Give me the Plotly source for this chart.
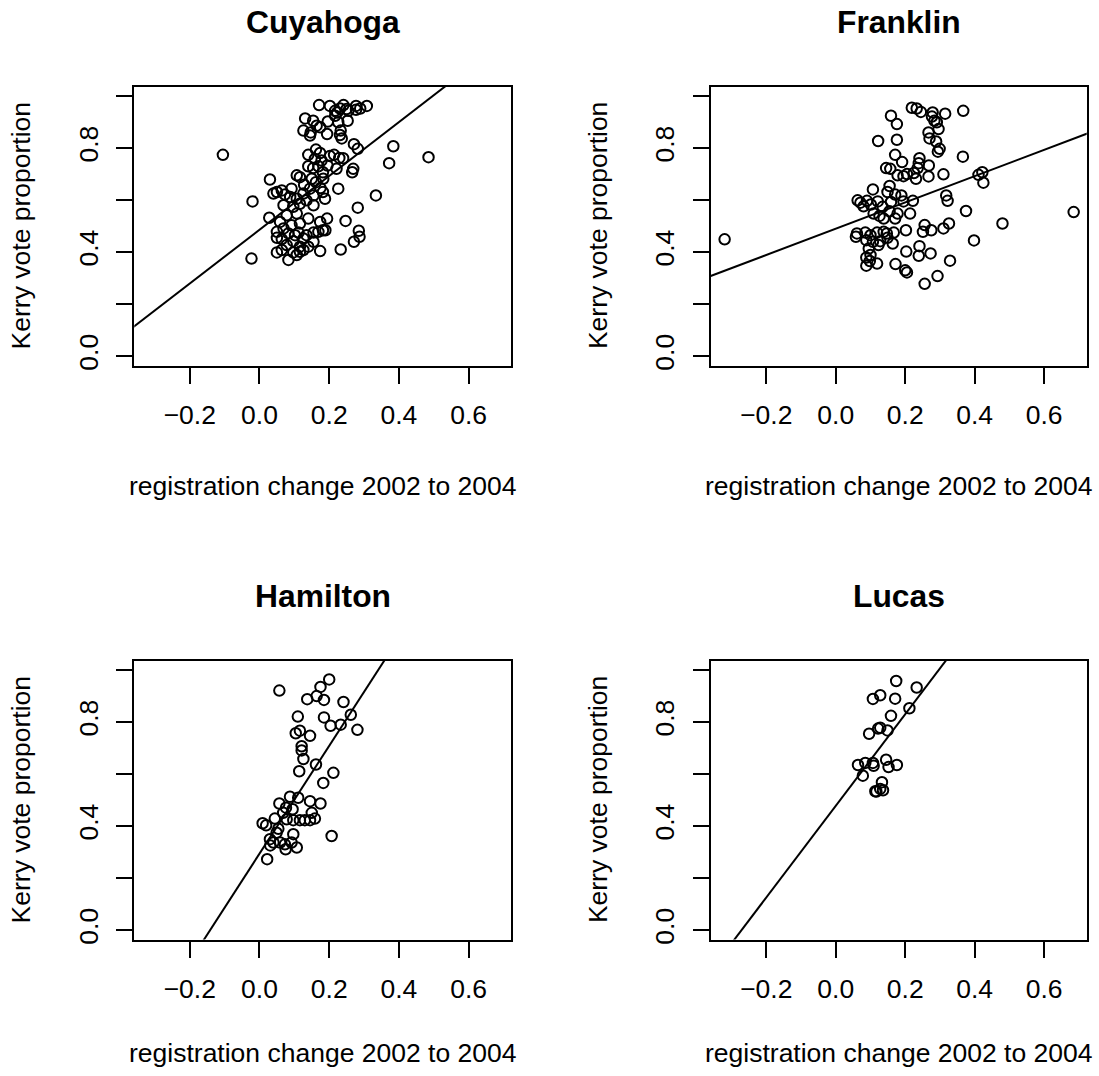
import plotly.graph_objects as go

# ---------------- data ----------------
counties = ["Cuyahoga", "Franklin", "Hamilton", "Lucas"]

cuyahoga_x = [-0.105, -0.020, -0.023, 0.030, 0.028, 0.384, 0.372, 0.485, 0.334, 0.282, 0.247, 0.285, 0.287, 0.271, 0.233, 0.174, 0.226, 0.266, 0.269, 0.282, 0.271,
              0.171, 0.202, 0.217, 0.231, 0.241, 0.250, 0.277, 0.289, 0.308, 0.223, 0.255, 0.277, 0.217,
              0.131, 0.154, 0.126, 0.147, 0.164, 0.174, 0.145, 0.196, 0.226, 0.253, 0.194, 0.233, 0.236, 0.231,
              0.140, 0.162, 0.174, 0.159, 0.178, 0.202, 0.214, 0.229, 0.240, 0.169, 0.154, 0.221, 0.195, 0.182, 0.140,
              0.107, 0.116, 0.128, 0.150, 0.162, 0.183, 0.175, 0.145, 0.126, 0.155, 0.182, 0.188, 0.050, 0.064, 0.040, 0.073, 0.092, 0.088, 0.107, 0.116, 0.155, 0.069, 0.097, 0.135,
              0.078, 0.107, 0.140, 0.059, 0.092, 0.116, 0.174, 0.194, 0.069, 0.050, 0.083, 0.112, 0.135, 0.155, 0.189, 0.050, 0.064, 0.097, 0.126, 0.155, 0.102, 0.078, 0.116, 0.140, 0.050, 0.064, 0.097, 0.116, 0.083, 0.107, 0.126, 0.169, 0.182]
cuyahoga_y = [0.774, 0.595, 0.375, 0.679, 0.532, 0.807, 0.742, 0.765, 0.618, 0.571, 0.520, 0.482, 0.459, 0.440, 0.410, 0.404, 0.644, 0.707, 0.720, 0.797, 0.815,
              0.965, 0.962, 0.943, 0.952, 0.965, 0.950, 0.962, 0.952, 0.962, 0.937, 0.943, 0.947, 0.924,
              0.914, 0.905, 0.867, 0.860, 0.886, 0.880, 0.848, 0.902, 0.899, 0.905, 0.854, 0.867, 0.837, 0.850,
              0.774, 0.794, 0.781, 0.758, 0.752, 0.769, 0.774, 0.762, 0.761, 0.730, 0.723, 0.720, 0.733, 0.707, 0.730,
              0.695, 0.688, 0.659, 0.682, 0.669, 0.682, 0.646, 0.644, 0.625, 0.618, 0.631, 0.605, 0.631, 0.637, 0.625, 0.621, 0.644, 0.612, 0.605, 0.586, 0.580, 0.580, 0.574, 0.599,
              0.542, 0.548, 0.529, 0.516, 0.503, 0.510, 0.516, 0.529, 0.491, 0.478, 0.472, 0.475, 0.465, 0.475, 0.484, 0.455, 0.450, 0.442, 0.452, 0.440, 0.465, 0.427, 0.421, 0.421, 0.399, 0.408, 0.399, 0.401, 0.370, 0.389, 0.408, 0.478, 0.484]

franklin_x = [-0.320, 0.685, 0.480, 0.398, 0.375, 0.367, 0.366, 0.310, 0.411, 0.422, 0.425, 0.318, 0.322, 0.326, 0.310, 0.329, 0.293, 0.256, 0.273, 0.239, 0.241, 0.203, 0.200, 0.205, 0.172, 0.202, 0.256, 0.275, 0.251, 0.214, 0.222,
              0.219, 0.233, 0.245, 0.279, 0.315, 0.277, 0.159, 0.176, 0.284, 0.291, 0.296, 0.267, 0.270, 0.289, 0.299, 0.294, 0.122, 0.176, 0.171, 0.191, 0.145, 0.178, 0.195, 0.205, 0.241, 0.239, 0.236, 0.268, 0.225, 0.231, 0.267, 0.157,
              0.107, 0.155, 0.149, 0.171, 0.189, 0.195, 0.063, 0.071, 0.090, 0.080, 0.101, 0.121, 0.135, 0.159, 0.178, 0.155, 0.109, 0.126, 0.138, 0.171,
              0.061, 0.058, 0.085, 0.100, 0.119, 0.138, 0.147, 0.167, 0.088, 0.107, 0.128, 0.149, 0.164, 0.095, 0.088, 0.100, 0.088, 0.098, 0.119, 0.123]
franklin_y = [0.449, 0.554, 0.510, 0.445, 0.558, 0.943, 0.767, 0.699, 0.697, 0.707, 0.667, 0.618, 0.597, 0.510, 0.491, 0.367, 0.308, 0.278, 0.395, 0.386, 0.423, 0.402, 0.330, 0.322, 0.354, 0.484, 0.504, 0.484, 0.478, 0.548, 0.597,
              0.955, 0.952, 0.939, 0.937, 0.932, 0.921, 0.924, 0.892, 0.905, 0.899, 0.873, 0.860, 0.837, 0.825, 0.797, 0.786, 0.827, 0.832, 0.774, 0.746, 0.723, 0.695, 0.692, 0.700, 0.761, 0.742, 0.723, 0.733, 0.704, 0.682, 0.691, 0.720,
              0.641, 0.654, 0.631, 0.621, 0.618, 0.595, 0.599, 0.590, 0.597, 0.576, 0.583, 0.595, 0.574, 0.593, 0.548, 0.557, 0.548, 0.539, 0.529, 0.529,
              0.472, 0.459, 0.475, 0.465, 0.475, 0.478, 0.472, 0.475, 0.446, 0.440, 0.442, 0.455, 0.433, 0.414, 0.379, 0.389, 0.348, 0.366, 0.356, 0.427]

hamilton_x = [0.200, 0.057, 0.175, 0.164, 0.137, 0.185, 0.241, 0.262, 0.110, 0.185, 0.204, 0.233, 0.281, 0.116, 0.104, 0.145, 0.121, 0.121, 0.126, 0.162, 0.114, 0.212, 0.183,
              0.0875, 0.111, 0.145, 0.175, 0.057, 0.076, 0.095, 0.068, 0.150, 0.044, 0.078, 0.097, 0.116, 0.130, 0.145, 0.159, 0.009, 0.019, 0.054, 0.049, 0.097, 0.207, 0.030, 0.040, 0.059, 0.073, 0.092, 0.031, 0.075, 0.107, 0.022]
hamilton_y = [0.964, 0.921, 0.935, 0.900, 0.888, 0.885, 0.877, 0.828, 0.821, 0.818, 0.786, 0.790, 0.770, 0.767, 0.757, 0.747, 0.707, 0.691, 0.658, 0.637, 0.611, 0.605, 0.566,
              0.513, 0.509, 0.496, 0.487, 0.487, 0.471, 0.465, 0.451, 0.451, 0.429, 0.426, 0.423, 0.423, 0.423, 0.423, 0.429, 0.411, 0.403, 0.390, 0.375, 0.369, 0.362, 0.350, 0.337, 0.337, 0.330, 0.337, 0.326, 0.311, 0.318, 0.273]

lucas_x = [0.174, 0.233, 0.107, 0.128, 0.171, 0.212, 0.159, 0.096, 0.122, 0.128, 0.149, 0.064, 0.085, 0.107, 0.109, 0.145, 0.152, 0.176, 0.078, 0.133, 0.117, 0.128, 0.136, 0.114]
lucas_y = [0.958, 0.933, 0.889, 0.903, 0.890, 0.853, 0.824, 0.755, 0.775, 0.778, 0.768, 0.635, 0.643, 0.643, 0.632, 0.655, 0.627, 0.635, 0.594, 0.569, 0.533, 0.543, 0.538, 0.534]

# fitted regression lines (intercept, slope)
fit_intercept = [0.486, 0.490, 0.294, 0.478]
fit_slope = [1.034, 0.505, 2.073, 1.761]

x_tickvals = [-0.2, 0.0, 0.2, 0.4, 0.6]
x_ticktext = ["\u22120.2", "0.0", "0.2", "0.4", "0.6"]
y_tickvals = [0.0, 0.2, 0.4, 0.6, 0.8, 1.0]
y_ticktext = ["0.0", "", "0.4", "", "0.8", ""]

xlabel = "registration change 2002 to 2004"
ylabel = "Kerry vote proportion"

# ---------------- layout ----------------
W, H = 1099, 1076
FONT = "Liberation Sans, Arial, Helvetica, sans-serif"
FS = 26.5
LW = 2

# plot-box line centres in pixels (left, right, top, bottom)
boxes = [(133.3, 512.3, 86.0, 368.3),
         (710.0, 1087.7, 86.0, 368.3),
         (133.3, 512.3, 662.7, 945.0),
         (710.0, 1087.7, 662.7, 945.0)]
XLIM = [-0.3621, 0.7254]   # axis limits at the box lines
YLIM = [-0.04, 1.04]

xs_data = [cuyahoga_x, franklin_x, hamilton_x, lucas_x]
ys_data = [cuyahoga_y, franklin_y, hamilton_y, lucas_y]

fig = go.Figure()
annotations = []
layout_axes = {}
for i, name in enumerate(counties):
    l, r, t, b = boxes[i]
    # plotly draws axis lines half a line width outside the domain
    dl, dr, dt, db = l + LW / 2, r - LW / 2, t + LW / 2, b - LW / 2
    xpu = (r - l) / (XLIM[1] - XLIM[0])
    ypu = (b - t) / (YLIM[1] - YLIM[0])
    xr = [XLIM[0] + (LW / 2) / xpu, XLIM[1] - (LW / 2) / xpu]
    yr = [YLIM[0] + (LW / 2) / ypu, YLIM[1] - (LW / 2) / ypu]

    xa = "x" if i == 0 else f"x{i+1}"
    ya = "y" if i == 0 else f"y{i+1}"
    xkey = "xaxis" if i == 0 else f"xaxis{i+1}"
    ykey = "yaxis" if i == 0 else f"yaxis{i+1}"
    fig.add_trace(go.Scatter(x=xs_data[i], y=ys_data[i], mode="markers", xaxis=xa, yaxis=ya,
                             marker=dict(symbol="circle-open", size=10.5, color="black",
                                         line=dict(width=2, color="black")),
                             showlegend=False, hoverinfo="skip"))
    lx = [XLIM[0], XLIM[1]]
    ly = [fit_intercept[i] + fit_slope[i] * v for v in lx]
    fig.add_trace(go.Scatter(x=lx, y=ly, mode="lines", xaxis=xa, yaxis=ya,
                             line=dict(color="black", width=2),
                             showlegend=False, hoverinfo="skip"))
    common = dict(showline=True, mirror=True, linecolor="black", linewidth=LW,
                  ticks="outside", ticklen=16, tickwidth=2, tickcolor="black",
                  showgrid=False, zeroline=False, fixedrange=True,
                  tickfont=dict(family=FONT, size=FS, color="black"))
    layout_axes[xkey] = dict(domain=[dl / W, dr / W], range=xr, anchor=ya,
                             tickmode="array", tickvals=x_tickvals, ticktext=x_ticktext,
                             ticklabelstandoff=9, **common)
    layout_axes[ykey] = dict(domain=[1 - db / H, 1 - dt / H], range=yr, anchor=xa,
                             tickmode="array", tickvals=y_tickvals, ticktext=y_ticktext,
                             tickangle=-90, ticklabelstandoff=8, **common)
    cx = (l + r) / 2 / W
    annotations.append(dict(text=f"<b>{name}</b>", x=cx, y=1 - (t - 64) / H, xref="paper", yref="paper",
                            xanchor="center", yanchor="middle", showarrow=False,
                            font=dict(family=FONT, size=31.8, color="black")))
    xt_off = 120 if i < 2 else 113
    annotations.append(dict(text=xlabel, x=cx, y=1 - (b + xt_off) / H, xref="paper", yref="paper",
                            xanchor="center", yanchor="middle", showarrow=False,
                            font=dict(family=FONT, size=FS, color="black")))
    annotations.append(dict(text=ylabel, x=(l - 112) / W, y=1 - (t + b) / 2 / H, xref="paper", yref="paper",
                            xanchor="center", yanchor="middle", showarrow=False, textangle=-90,
                            font=dict(family=FONT, size=FS, color="black")))

fig.update_layout(width=W, height=H, margin=dict(l=0, r=0, t=0, b=0),
                  paper_bgcolor="white", plot_bgcolor="white",
                  annotations=annotations, showlegend=False, **layout_axes)

fig.write_html("out.html", config={"displayModeBar": False},
               post_script="document.body.style.margin='0';document.body.style.overflow='hidden';")
